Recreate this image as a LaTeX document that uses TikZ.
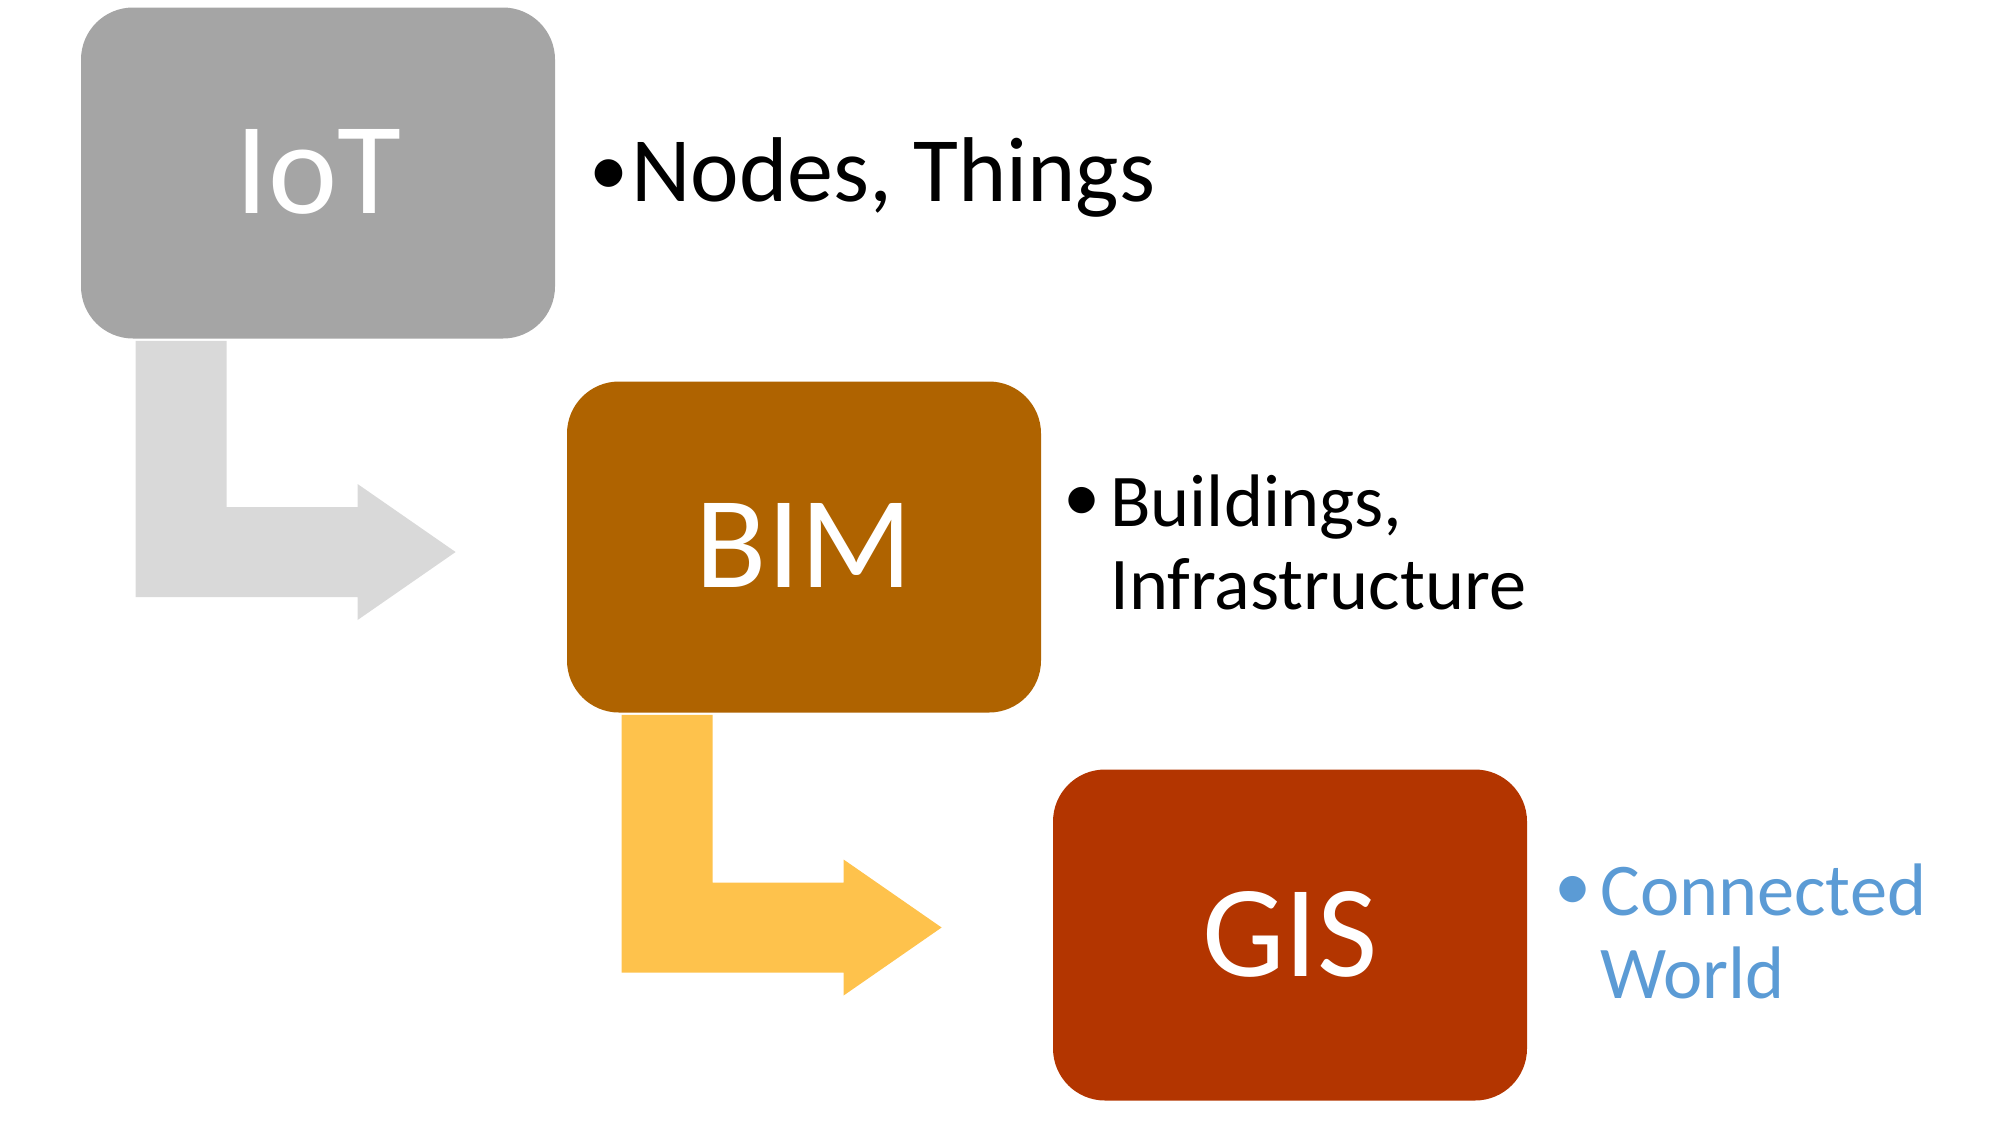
\documentclass[tikz,border=0pt]{standalone}
\usepackage{fontspec}
\setmainfont{Carlito}
\usetikzlibrary{calc}

\definecolor{iotgray}{HTML}{A5A5A5}
\definecolor{bimbrown}{HTML}{AF6300}
\definecolor{gisred}{HTML}{B33500}
\definecolor{arrowgray}{HTML}{D9D9D9}
\definecolor{arrowgold}{HTML}{FEC24C}
\definecolor{worldblue}{HTML}{5B9BD5}

\tikzset{
  stage/.style={rectangle, rounded corners=26pt, minimum width=237pt, minimum height=165.5pt,
    inner sep=0pt, text=white, font=\fontsize{65.5}{78}\selectfont},
  note/.style={anchor=base west, inner sep=0pt},
}
\newcommand{\bul}[2][1]{\makebox[#2][l]{\raisebox{0.06em}{\scalebox{#1}{•}}}}
\newcommand{\lift}[1]{\raisebox{1.5pt}{#1}}

\begin{document}
\begin{tikzpicture}[x=0.5pt, y=-0.5pt]
\useasboundingbox (0,0) rectangle (1998,1121);

\node[stage, fill=iotgray] (iot) at (318,173) {\lift{IoT}};
\node[stage, fill=bimbrown] (bim) at (804,547) {\lift{BIM}};
\node[stage, fill=gisred] (gis) at (1290,935) {\lift{GIS}};

\coordinate (s1) at ($(iot.south west)+(55,2)$);
\coordinate (t1) at ($(bim.west)+(-111,5)$);
\fill[arrowgray] (s1) -- ++(91,0) |- ($(t1)+(-98,-45)$) -- ++(0,-23) -- (t1)
  -- ($(t1)+(-98,68)$) -- ++(0,-23) -| (s1) -- cycle;

\coordinate (s2) at ($(bim.south west)+(55,2)$);
\coordinate (t2) at ($(gis.west)+(-111,-7.5)$);
\fill[arrowgold] (s2) -- ++(91,0) |- ($(t2)+(-98,-45)$) -- ++(0,-23) -- (t2)
  -- ($(t2)+(-98,68)$) -- ++(0,-23) -| (s2) -- cycle;

\node[note, font=\fontsize{46}{54}\selectfont] (iotnote) at (589,201) {\bul[0.85]{21pt}Nodes, Things};
\node[note, font=\fontsize{37.2}{41.5}\selectfont] (bimnote) at (1063,526)
  {\bul{23.5pt}\begin{tabular}[t]{@{}l@{}}Buildings,\\Infrastructure\end{tabular}};
\node[note, text=worldblue, font=\fontsize{37.2}{41.5}\selectfont] (gisnote) at (1554,915)
  {\bul{23pt}\begin{tabular}[t]{@{}l@{}}Connected\\World\end{tabular}};
\end{tikzpicture}
\end{document}
